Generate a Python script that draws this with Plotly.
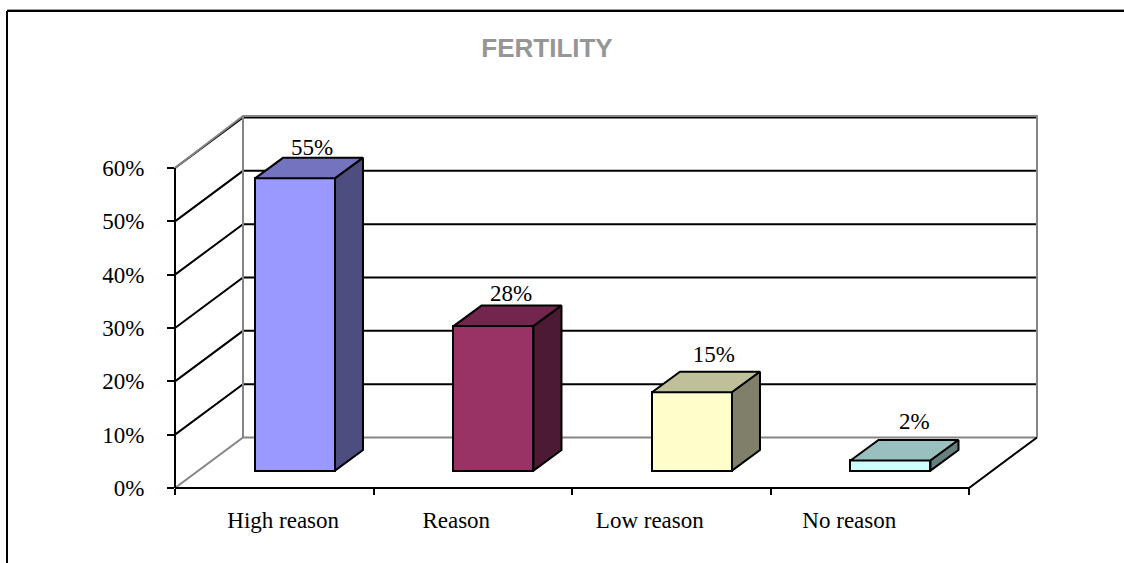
import plotly.graph_objects as go

# ---- data ----
categories = ["High reason", "Reason", "Low reason", "No reason"]
values = [54.8, 27.1, 14.7, 1.9]
value_labels = ["55%", "28%", "15%", "2%"]
y_ticks = [0, 10, 20, 30, 40, 50, 60]
y_tick_labels = ["0%", "10%", "20%", "30%", "40%", "50%", "60%"]
title_text = "FERTILITY"

# ---- colours ----
front_colors = ["#9999FF", "#993366", "#FFFFCC", "#CCFFFF"]
top_colors = ["#7373BF", "#73264D", "#BFBF99", "#99BFBF"]
side_colors = ["#4D4D80", "#4D1A33", "#80806A", "#668080"]
GREY = "#858585"
BLACK = "#000000"

# ---- pseudo-3D geometry, in axis units ----
PX_X = 198.5            # pixels per category
PX_Y = 16 / 3           # pixels per percent
WALL_DX = 68 / PX_X
WALL_DY = 50.5 / PX_Y
BAR_DX = 28 / PX_X
BAR_DY = 20.5 / PX_Y
BAR_W = 80 / PX_X
BAR_SHIFT = 0.1045
BAR_BASE = 17.4 / PX_Y
LABEL_GAP = [1.55, 1.85, 2.9, 3.2]
LABEL_X_NUDGE = [0.015, 0.018, 0.04, 0.05]
TICK_LABEL_SHIFT = [0.045, -0.083, -0.108, -0.103]
X0, X1 = -0.5, 3.5
Y_MAX = y_ticks[-1]
TEXT_SIZE = 23

W, H = 1124, 563
ML, MR, MT, MB = 175, 79, 100, 75
PW, PH = W - ML - MR, H - MT - MB
X_SPAN = PW / PX_X
Y_SPAN = PH / PX_Y

fig = go.Figure()


def seg(xs, ys, color, width=2):
    # paper-referenced so that lines lying on the plot edge are not clipped
    pts = [f"{(x - X0) / X_SPAN},{y / Y_SPAN}" for x, y in zip(xs, ys)]
    return dict(type="path", path="M " + " L ".join(pts), xref="paper", yref="paper",
                layer="below", line=dict(color=color, width=width))


fx = lambda px: (px - ML) / PW
fy = lambda py: (H - MB - py) / PH


def frame(px0, py0, px1, py1, color, width):
    return dict(type="line", xref="paper", yref="paper", x0=fx(px0), x1=fx(px1),
                y0=fy(py0), y1=fy(py1), line=dict(color=color, width=width), layer="below")


shapes = [
    frame(7, 9.5, 1124, 9.5, "#A0A0A0", 1),
    frame(7, 563, 7, 11, BLACK, 2),
    frame(7, 11, 1124, 11, BLACK, 2),
]
# gridlines on side wall and back wall
for t in y_ticks[1:]:
    shapes.append(seg([X0, X0 + WALL_DX, X1 + WALL_DX],
                      [t, t + WALL_DY, t + WALL_DY], BLACK))
# grey wall outlines
shapes.append(seg([X0, X0 + WALL_DX, X1 + WALL_DX], [0, WALL_DY, WALL_DY], GREY))
shapes.append(seg([X0, X0 + WALL_DX, X1 + WALL_DX, X1 + WALL_DX],
                  [Y_MAX, Y_MAX + WALL_DY + 0.3, Y_MAX + WALL_DY + 0.3, WALL_DY], GREY))
shapes.append(seg([X0 + WALL_DX, X0 + WALL_DX], [WALL_DY, Y_MAX + WALL_DY + 0.3], GREY))
# front axes
shapes.append(seg([X0, X0], [0, Y_MAX], BLACK))
shapes.append(seg([X0, X1, X1 + WALL_DX], [0, 0, WALL_DY], BLACK))

centers = [i + BAR_SHIFT for i in range(len(values))]

fig.add_trace(go.Bar(
    x=centers, y=values, base=BAR_BASE, width=BAR_W,
    marker=dict(color=front_colors, line=dict(color=BLACK, width=2)),
    showlegend=False, hoverinfo="skip",
))

for c, v, tc, sc in zip(centers, values, top_colors, side_colors):
    l, r = c - BAR_W / 2, c + BAR_W / 2
    top = BAR_BASE + v
    fig.add_trace(go.Scatter(
        x=[l, r, r + BAR_DX, l + BAR_DX, l],
        y=[top, top, top + BAR_DY, top + BAR_DY, top],
        mode="lines", fill="toself", fillcolor=tc,
        line=dict(color=BLACK, width=2), showlegend=False, hoverinfo="skip"))
    fig.add_trace(go.Scatter(
        x=[r, r + BAR_DX, r + BAR_DX, r, r],
        y=[top, top + BAR_DY, BAR_BASE + BAR_DY, BAR_BASE, top],
        mode="lines", fill="toself", fillcolor=sc,
        line=dict(color=BLACK, width=2), showlegend=False, hoverinfo="skip"))

fig.add_trace(go.Scatter(
    x=[c + BAR_DX / 2 + n for c, n in zip(centers, LABEL_X_NUDGE)],
    y=[BAR_BASE + v + BAR_DY + g for v, g in zip(values, LABEL_GAP)],
    mode="text", text=value_labels, textposition="middle center",
    textfont=dict(family="Liberation Serif", size=TEXT_SIZE, color=BLACK),
    showlegend=False, hoverinfo="skip", cliponaxis=False))

fig.update_layout(
    width=W, height=H, margin=dict(l=ML, r=MR, t=MT, b=MB),
    paper_bgcolor="white", plot_bgcolor="white", shapes=shapes, bargap=0,
    title=dict(text=title_text, x=547 / W, xanchor="center", y=1 - 48 / H, yanchor="middle",
               font=dict(family="Liberation Sans", size=26, color="#969696", weight="bold")),
    font=dict(family="Liberation Serif", size=TEXT_SIZE, color=BLACK),
    xaxis=dict(range=[X0, X0 + X_SPAN], showgrid=False, zeroline=False, showline=False,
               tickmode="array",
               tickvals=[i + s for i, s in enumerate(TICK_LABEL_SHIFT)],
               ticktext=categories, ticks="", ticklabelstandoff=16,
               minor=dict(tickmode="array", tickvals=[X0 + i for i in range(5)],
                          ticks="outside", ticklen=6, tickwidth=2, tickcolor=BLACK, showgrid=False)),
    yaxis=dict(range=[0, Y_SPAN], showgrid=False, zeroline=False, showline=False,
               tickmode="array", tickvals=y_ticks, ticktext=y_tick_labels,
               ticks="outside", ticklen=7, tickwidth=2, tickcolor=BLACK,
               ticklabelstandoff=18),
)

fig.write_html("out.html", config={"displayModeBar": False},
               post_script="document.body.style.margin='0';document.body.style.overflow='hidden';")
